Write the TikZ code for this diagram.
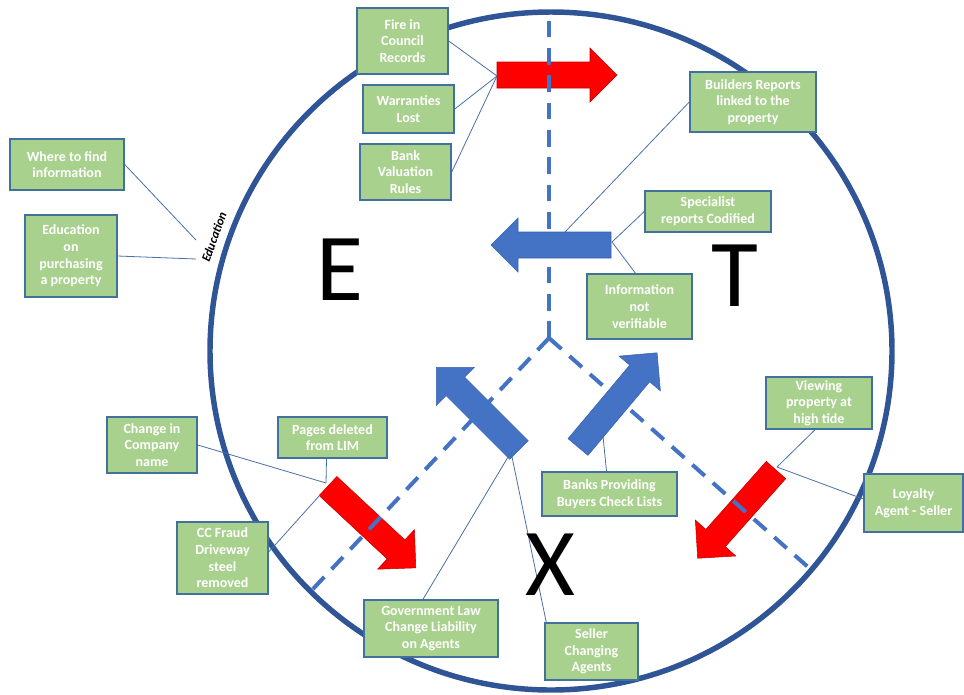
\documentclass[tikz,border=0pt]{standalone}
\usepackage{fontspec}
\setmainfont{Carlito}
\usetikzlibrary{calc}
\definecolor{ringblue}{HTML}{2F5597}
\definecolor{arrowblue}{HTML}{4472C4}
\definecolor{arrowblueedge}{HTML}{3A62AD}
\definecolor{boxgreen}{HTML}{A9D18E}
\definecolor{boxedge}{HTML}{41719C}
\definecolor{leadcol}{HTML}{4A6FA5}
\definecolor{rededge}{HTML}{C00000}

% block arrow: style, tail point, angle, length
\newcommand\blockarrow[4]{%
  \begin{scope}[shift={#2}, rotate=#3]
    \filldraw[#1] (0,-13) -- ({#4-27},-13) -- ({#4-27},-27) -- (#4,0) -- ({#4-27},27) -- ({#4-27},13) -- (0,13) -- cycle;
  \end{scope}}
% box: name, cx, cy, w(px), h(px), text
\newcommand\gbox[6]{%
  \node[gbox, minimum width={#4*0.75pt}, minimum height={#5*0.75pt}] (#1) at (#2,#3) {#6};}

\begin{document}
\begin{tikzpicture}[x=0.75pt, y=-0.75pt,
  gbox/.style={draw=boxedge, line width=1.1pt, fill=boxgreen, text=white,
    font=\bfseries\fontsize{10.5}{12.5}\selectfont, align=center, inner sep=1pt},
  lead/.style={draw=leadcol, line width=0.6pt},
  ring/.style={draw=ringblue, line width=4.1pt},
  dashline/.style={draw=arrowblue, line width=3pt, dash pattern=on 12.5pt off 8pt},
  redarrow/.style={fill=red, draw=rededge, line width=0.4pt},
  bluearrow/.style={fill=arrowblue, draw=arrowblueedge, line width=0.4pt},
  bigletter/.style={font=\fontsize{72}{72}\selectfont, inner sep=0pt, text=black}]
\useasboundingbox (0,0) rectangle (964,694);

% ring
\draw[ring] (551,351) ellipse [x radius=341, y radius=339];

% block arrows
\blockarrow{redarrow}{(497,75)}{0}{120}
\blockarrow{bluearrow}{(611,245)}{180}{120}
\blockarrow{bluearrow}{(519,450)}{135}{117}
\blockarrow{bluearrow}{(578,447)}{50}{123}
\blockarrow{redarrow}{(328,486)}{-43}{120}
\blockarrow{redarrow}{(776,470)}{228.4}{118}

% dashed dividers
\coordinate (apex) at (549,338);
\coordinate (dtop) at (549,16);
\coordinate (dleft) at (312,590);
\coordinate (dright) at (808,567);
\draw[dashline] (apex) -- (dtop);
\draw[dashline] (apex) -- (dleft);
\draw[dashline] (apex) -- (dright);

% leader end points
\coordinate (pRed) at (497,76);
\coordinate (pBL1) at (565,232);
\coordinate (pBL2) at (612,242);
\coordinate (pEdu1) at (196,240);
\coordinate (pEdu2) at (196,259);
\coordinate (pBUL) at (511,452);
\coordinate (pBUR) at (603,436);
\coordinate (pRDR1) at (326,483);
\coordinate (pRDR2) at (320,495);
\coordinate (pRDL) at (777,467);

% boxes
\gbox{fire}{402.5}{41}{91}{66}{Fire in\\Council\\Records}
\gbox{warr}{408.5}{109}{91}{48}{Warranties\\Lost}
\gbox{bank}{405.5}{172}{91}{56}{Bank\\Valuation\\Rules}
\gbox{where}{67}{164.5}{114}{51}{Where to find\\information}
\gbox{educ}{71}{256}{92}{82}{Education\\on\\purchasing\\a property}
\gbox{builders}{753}{102}{126}{60}{Builders Reports\\linked to the\\property}
\gbox{special}{708}{211.5}{126}{41}{Specialist\\reports Codified}
\gbox{info}{639.5}{306.5}{105}{65}{Information\\not\\verifiable}
\gbox{change}{152}{445}{90}{56}{Change in\\Company\\name}
\gbox{pages}{332.5}{437.5}{109}{41}{Pages deleted\\from LIM}
\gbox{ccfraud}{222.5}{558}{91}{72}{CC Fraud\\Driveway\\steel\\removed}
\gbox{viewing}{819}{403}{106}{52}{Viewing\\property at\\high tide}
\gbox{loyalty}{913.5}{503}{99}{58}{Loyalty\\Agent - Seller}
\gbox{banksprov}{609.5}{494}{135}{44}{Banks Providing\\Buyers Check Lists}
\gbox{govt}{431}{628.5}{134}{57}{Government Law\\Change Liability\\on Agents}
\gbox{seller}{591.5}{651.5}{93}{57}{Seller\\Changing\\Agents}

% leader lines
\draw[lead] (fire.east) -- (pRed);
\draw[lead] (warr.east) -- (pRed);
\draw[lead] (bank.east) -- (pRed);
\draw[lead] (where.east) -- (pEdu1);
\draw[lead] (educ.east) -- (pEdu2);
\draw[lead] (builders.west) -- (pBL1);
\draw[lead] (special.west) -- (pBL2);
\draw[lead] ($(info.north)+(-4,0)$) -- (pBL2);
\draw[lead] (change.east) -- (pRDR1);
\draw[lead] ($(pages.south)+(-6,0)$) -- (pRDR1);
\draw[lead] ($(ccfraud.east)+(0,-6)$) -- (pRDR2);
\draw[lead] ($(viewing.south)+(-4,0)$) -- (pRDL);
\draw[lead] ($(loyalty.west)+(0,-4)$) -- (pRDL);
\draw[lead] ($(banksprov.north)+(-3,0)$) -- (pBUR);
\draw[lead] ($(govt.north)+(-8,0)$) -- (pBUL);
\draw[lead] ($(seller.north west)+(2,0)$) -- (pBUL);

% big letters
\node[bigletter] (E) at (340,270) {E};
\node[bigletter] (T) at (735,276) {T};
\node[bigletter] (X) at (550,565) {X};

% Education label
\node[font=\bfseries\itshape\fontsize{9.5}{10}\selectfont, rotate=70, inner sep=0pt] (edlabel) at (214,237) {Education};
\end{tikzpicture}
\end{document}
